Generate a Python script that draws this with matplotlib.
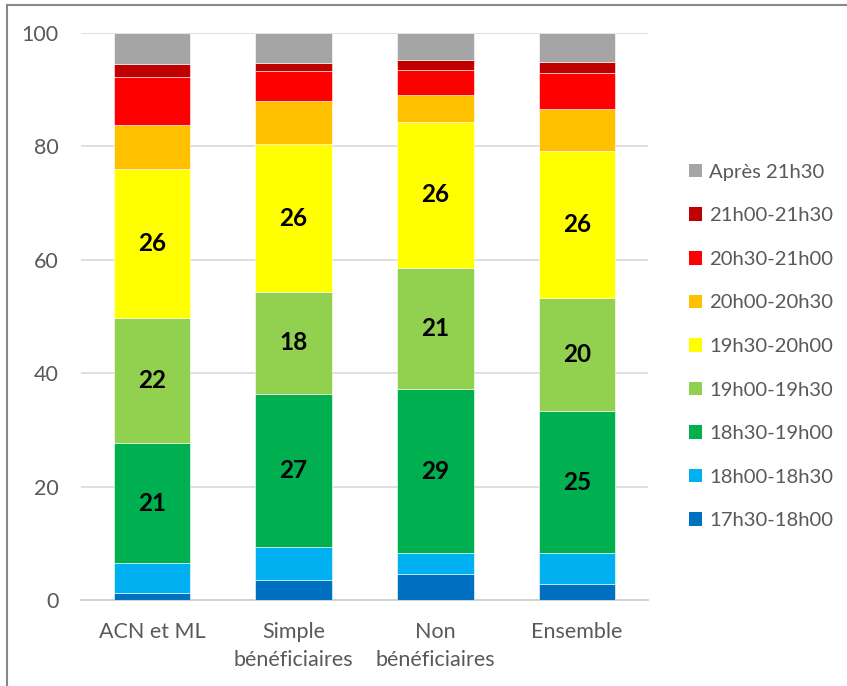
import matplotlib.pyplot as plt
import numpy as np
from matplotlib.patches import Patch
from matplotlib.lines import Line2D

plt.rcParams['font.family'] = ['Lato', 'DejaVu Sans']

categories = ['ACN et ML', 'Simple\nbénéficiaires', 'Non\nbénéficiaires', 'Ensemble']
tranches = ['17h30-18h00', '18h00-18h30', '18h30-19h00', '19h00-19h30', '19h30-20h00',
            '20h00-20h30', '20h30-21h00', '21h00-21h30', 'Après 21h30']
couleurs = ['#0070C0', '#00B0F0', '#00B050', '#92D050', '#FFFF00',
            '#FFC000', '#FF0000', '#C00000', '#A5A5A5']

# parts (%) par tranche, une liste par tranche, dans l'ordre des categories
t1730 = [1.3, 3.5, 4.5, 2.75]
t1800 = [5.3, 5.85, 3.7, 5.45]
t1830 = [21.0, 27.0, 29.0, 25.15]
t1900 = [22.1, 18.0, 21.4, 19.85]
t1930 = [26.4, 26.0, 25.75, 26.0]
t2000 = [7.7, 7.65, 4.75, 7.4]
t2030 = [8.5, 5.3, 4.4, 6.4]
t2100 = [2.3, 1.45, 1.8, 1.8]
apres = [5.4, 5.2, 4.7, 5.2]
series = [t1730, t1800, t1830, t1900, t1930, t2000, t2030, t2100, apres]

# tranches etiquetees dans le graphique
labelled = ['18h30-19h00', '19h00-19h30', '19h30-20h00']

fig = plt.figure(figsize=(8.47, 6.86), dpi=100)
ax = fig.add_axes([0.0956, 0.1254, 0.6694, 0.8265])

x = np.arange(len(categories))
bottom = np.zeros(len(categories))
for name, vals, col in zip(tranches, series, couleurs):
    vals = np.array(vals)
    ax.bar(x, vals, bottom=bottom, width=0.54, color=col, edgecolor='white',
           linewidth=0.4, zorder=3, label=name)
    if name in labelled:
        for xi, b, v in zip(x, bottom, vals):
            ax.text(xi, b + v / 2, f'{round(v):.0f}', ha='center', va='center',
                    fontsize=17.5, fontweight='bold', color='black', zorder=4)
    bottom += vals

ax.set_xlim(-0.5, len(categories) - 0.5)
ax.set_ylim(0, 100)
ax.set_yticks(range(0, 101, 20))
ax.yaxis.grid(True, color='#D9D9D9', linewidth=1.2, zorder=0)
ax.set_xticks(x)
ax.set_xticklabels(categories, linespacing=1.5)
ax.tick_params(axis='both', length=0, labelsize=15.5, colors='#595959')
ax.tick_params(axis='y', pad=16)
ax.tick_params(axis='x', pad=16)
for s in ['top', 'right', 'left']:
    ax.spines[s].set_visible(False)
ax.spines['bottom'].set_color('#D0D0D0')
ax.spines['bottom'].set_linewidth(1.3)

handles = [Patch(facecolor=c, edgecolor='none') for c in couleurs][::-1]
leg = fig.legend(handles, tranches[::-1], loc='center left',
                 bbox_to_anchor=(0.8135, 0.4949), frameon=False,
                 fontsize=14.6, handlelength=0.65, handleheight=0.65,
                 handletextpad=0.35, labelspacing=1.31, borderpad=0,
                 borderaxespad=0)
for t in leg.get_texts():
    t.set_color('#595959')

# bordure de la zone de graphique (haut et gauche)
fig.add_artist(Line2D([0.0083, 1.0], [0.9927, 0.9927], color='#888888', linewidth=1.5))
fig.add_artist(Line2D([0.0083, 0.0083], [0.0, 0.9927], color='#888888', linewidth=1.5))

fig.savefig('out.png', dpi=100)
